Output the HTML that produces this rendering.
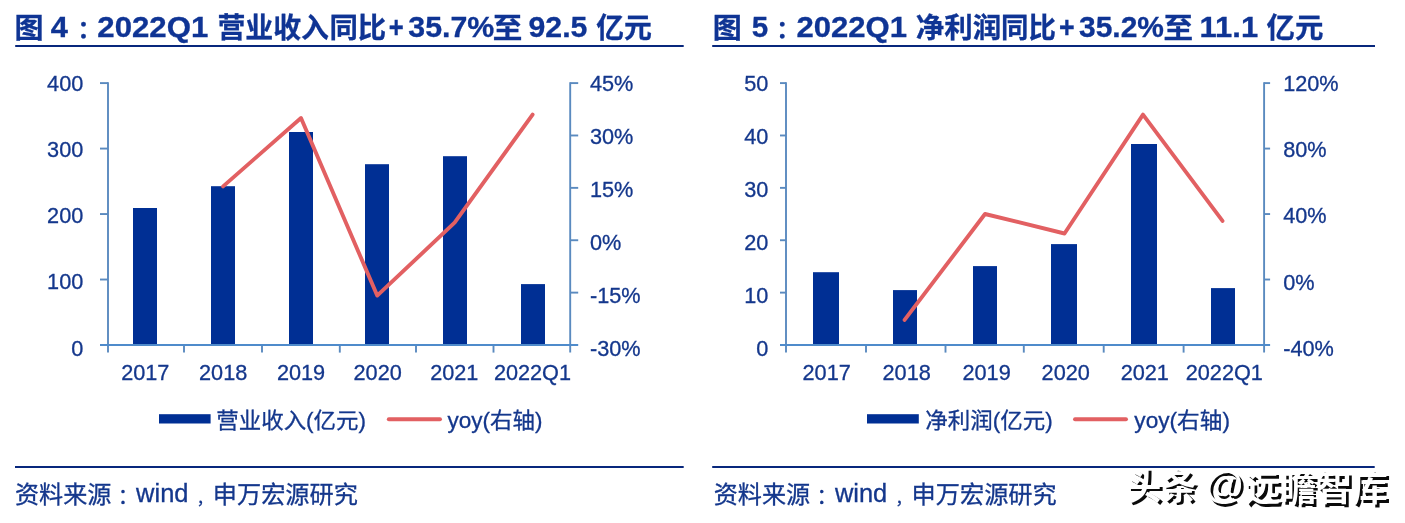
<!DOCTYPE html>
<html lang="zh-CN"><head><meta charset="utf-8"><title>图 4 / 图 5</title>
<style>html,body{margin:0;padding:0;background:#fff;}body{width:1405px;height:523px;overflow:hidden;}svg{display:block;font-family:'Liberation Sans', 'Noto Sans CJK SC', sans-serif;fill:#14378c;}text{stroke:#14378c;stroke-width:0.3px;}.wm text{stroke:none;}.tt text{fill:#0f3494;stroke:#0f3494;}</style>
</head><body>
<svg width="1405" height="523" viewBox="0 0 1405 523">
<rect width="1405" height="523" fill="#ffffff"/>
<g id="title-left" class="tt"><text font-weight="bold">
<tspan x="14.43" y="37.5" font-size="28" font-weight="bold" textLength="29.05" lengthAdjust="spacingAndGlyphs">图</tspan>
 
<tspan x="50.77" y="37" font-size="29" font-weight="bold" textLength="17.17" lengthAdjust="spacingAndGlyphs">4</tspan>
<tspan x="77.40" y="37.7" font-size="24" font-weight="bold">：</tspan>
<tspan x="97.32" y="37" font-size="29" font-weight="bold" textLength="110.96" lengthAdjust="spacingAndGlyphs">2022Q1</tspan>
 
<tspan x="217.38" y="37.5" font-size="28" font-weight="bold" textLength="111.64" lengthAdjust="spacingAndGlyphs">营业收入</tspan>
<tspan x="329.44" y="37.5" font-size="28" font-weight="bold" textLength="56.82" lengthAdjust="spacingAndGlyphs">同比</tspan>
<tspan x="388.80" y="37" font-size="29" font-weight="bold" textLength="14.95" lengthAdjust="spacingAndGlyphs">+</tspan>
<tspan x="408.35" y="37" font-size="29" font-weight="bold" textLength="85.91" lengthAdjust="spacingAndGlyphs">35.7%</tspan>
<tspan x="492.78" y="37.5" font-size="28" font-weight="bold" textLength="29.54" lengthAdjust="spacingAndGlyphs">至</tspan>
 
<tspan x="528.56" y="37" font-size="29" font-weight="bold" textLength="58.90" lengthAdjust="spacingAndGlyphs">92.5</tspan>
 
<tspan x="596.20" y="37.5" font-size="28" font-weight="bold" textLength="55.67" lengthAdjust="spacingAndGlyphs">亿元</tspan>
</text></g>
<g id="title-right" class="tt"><text font-weight="bold">
<tspan x="712.72" y="37.5" font-size="28" font-weight="bold" textLength="29.05" lengthAdjust="spacingAndGlyphs">图</tspan>
 
<tspan x="751.81" y="37" font-size="29" font-weight="bold" textLength="16.46" lengthAdjust="spacingAndGlyphs">5</tspan>
<tspan x="776.30" y="37.7" font-size="24" font-weight="bold">：</tspan>
<tspan x="796.53" y="37" font-size="29" font-weight="bold" textLength="110.55" lengthAdjust="spacingAndGlyphs">2022Q1</tspan>
 
<tspan x="915.88" y="37.5" font-size="28" font-weight="bold" textLength="85.50" lengthAdjust="spacingAndGlyphs">净利润</tspan>
<tspan x="1001.12" y="37.5" font-size="28" font-weight="bold" textLength="54.91" lengthAdjust="spacingAndGlyphs">同比</tspan>
<tspan x="1058.94" y="37" font-size="29" font-weight="bold" textLength="15.65" lengthAdjust="spacingAndGlyphs">+</tspan>
<tspan x="1079.05" y="37" font-size="29" font-weight="bold" textLength="84.90" lengthAdjust="spacingAndGlyphs">35.2%</tspan>
<tspan x="1163.48" y="37.5" font-size="28" font-weight="bold" textLength="29.54" lengthAdjust="spacingAndGlyphs">至</tspan>
 
<tspan x="1199.60" y="37" font-size="29" font-weight="bold" textLength="58.50" lengthAdjust="spacingAndGlyphs">11.1</tspan>
 
<tspan x="1266.49" y="37.5" font-size="28" font-weight="bold" textLength="56.90" lengthAdjust="spacingAndGlyphs">亿元</tspan>
</text></g>
<rect x="15.2" y="45" width="668.5" height="2" fill="#08277c"/>
<rect x="712.2" y="45" width="662.8" height="2" fill="#08277c"/>
<rect x="133" y="208" width="24" height="137.0" fill="#002f94"/>
<rect x="211" y="186.2" width="24" height="158.8" fill="#002f94"/>
<rect x="289" y="132" width="24" height="213.0" fill="#002f94"/>
<rect x="365" y="164.2" width="24" height="180.8" fill="#002f94"/>
<rect x="443" y="156.2" width="24" height="188.8" fill="#002f94"/>
<rect x="521" y="284.1" width="24" height="60.9" fill="#002f94"/>
<g stroke="#5a8abf" stroke-width="1.9" fill="none">
<path d="M108 82.2 V352.6"/>
<path d="M570.2 82.2 V352.6"/>
<path d="M100 83.10 H108"/>
<path d="M100 148.57 H108"/>
<path d="M100 214.05 H108"/>
<path d="M100 279.52 H108"/>
<path d="M570.2 83.10 H578.2"/>
<path d="M570.2 135.48 H578.2"/>
<path d="M570.2 187.86 H578.2"/>
<path d="M570.2 240.24 H578.2"/>
<path d="M570.2 292.62 H578.2"/>
<path d="M184 345.0 V352.6"/>
<path d="M262 345.0 V352.6"/>
<path d="M339.8 345.0 V352.6"/>
<path d="M416 345.0 V352.6"/>
<path d="M493.5 345.0 V352.6"/>
</g>
<path d="M100 345.0 H578.2" stroke="#4f8bcb" stroke-width="2.1" fill="none"/>
<path d="M223.1 186.4 L301 118 L377.2 295.6 L454.6 222.7 L532.6 114.6" stroke="#e26062" stroke-width="3.9" fill="none" stroke-linecap="round" stroke-linejoin="round"/>
<text x="83.3" y="90.90" font-size="21.7" text-anchor="end">400</text>
<text x="83.3" y="157.05" font-size="21.7" text-anchor="end">300</text>
<text x="83.3" y="223.20" font-size="21.7" text-anchor="end">200</text>
<text x="83.3" y="289.35" font-size="21.7" text-anchor="end">100</text>
<text x="83.3" y="355.50" font-size="21.7" text-anchor="end">0</text>
<text x="590" y="91.30" font-size="21.7">45%</text>
<text x="590" y="144.16" font-size="21.7">30%</text>
<text x="590" y="197.02" font-size="21.7">15%</text>
<text x="590" y="249.88" font-size="21.7">0%</text>
<text x="590" y="302.74" font-size="21.7">-15%</text>
<text x="590" y="355.60" font-size="21.7">-30%</text>
<text x="121.16" y="380.2" font-size="21.7">2017</text>
<text x="199.05" y="380.2" font-size="21.7">2018</text>
<text x="276.91" y="380.2" font-size="21.7">2019</text>
<text x="353.55" y="380.2" font-size="21.7">2020</text>
<text x="430.16" y="380.2" font-size="21.7">2021</text>
<text x="493.88" y="380.2" font-size="21.7">2022Q1</text>
<rect x="159" y="414.2" width="51.6" height="9.3" fill="#002f94"/>
<text x="216.30" y="427.6" font-size="22" textLength="149.64" lengthAdjust="spacingAndGlyphs">营业收入(亿元)</text>
<path d="M388.8 419.3 H440" stroke="#e26062" stroke-width="3.9" stroke-linecap="round"/>
<text x="447.47" y="427.6" font-size="22" textLength="94.95" lengthAdjust="spacingAndGlyphs">yoy(右轴)</text>
<rect x="813" y="272.2" width="26" height="72.8" fill="#002f94"/>
<rect x="893" y="290.1" width="24" height="54.9" fill="#002f94"/>
<rect x="973" y="266.1" width="24" height="78.9" fill="#002f94"/>
<rect x="1051" y="244.1" width="26" height="100.9" fill="#002f94"/>
<rect x="1131" y="144" width="26" height="201.0" fill="#002f94"/>
<rect x="1211" y="288.1" width="24" height="56.9" fill="#002f94"/>
<g stroke="#5a8abf" stroke-width="1.9" fill="none">
<path d="M786 82.2 V352.6"/>
<path d="M1264.1 82.2 V352.6"/>
<path d="M780 83.10 H786"/>
<path d="M780 135.48 H786"/>
<path d="M780 187.86 H786"/>
<path d="M780 240.24 H786"/>
<path d="M780 292.62 H786"/>
<path d="M1264.1 83.10 H1270.1"/>
<path d="M1264.1 148.57 H1270.1"/>
<path d="M1264.1 214.05 H1270.1"/>
<path d="M1264.1 279.52 H1270.1"/>
<path d="M866 345.0 V352.6"/>
<path d="M945.5 345.0 V352.6"/>
<path d="M1023.8 345.0 V352.6"/>
<path d="M1103.7 345.0 V352.6"/>
<path d="M1183.6 345.0 V352.6"/>
</g>
<path d="M780 345.0 H1270.1" stroke="#4f8bcb" stroke-width="2.1" fill="none"/>
<path d="M904.6 319.9 L985 214 L1064.5 233.5 L1143 114.6 L1222.5 220.9" stroke="#e26062" stroke-width="3.9" fill="none" stroke-linecap="round" stroke-linejoin="round"/>
<text x="768.3" y="90.90" font-size="21.7" text-anchor="end">50</text>
<text x="768.3" y="143.82" font-size="21.7" text-anchor="end">40</text>
<text x="768.3" y="196.74" font-size="21.7" text-anchor="end">30</text>
<text x="768.3" y="249.66" font-size="21.7" text-anchor="end">20</text>
<text x="768.3" y="302.58" font-size="21.7" text-anchor="end">10</text>
<text x="768.3" y="355.50" font-size="21.7" text-anchor="end">0</text>
<text x="1283.2" y="91.30" font-size="21.7">120%</text>
<text x="1283.2" y="157.38" font-size="21.7">80%</text>
<text x="1283.2" y="223.45" font-size="21.7">40%</text>
<text x="1283.2" y="289.53" font-size="21.7">0%</text>
<text x="1283.2" y="355.60" font-size="21.7">-40%</text>
<text x="802.56" y="380.2" font-size="21.7">2017</text>
<text x="882.55" y="380.2" font-size="21.7">2018</text>
<text x="962.46" y="380.2" font-size="21.7">2019</text>
<text x="1041.60" y="380.2" font-size="21.7">2020</text>
<text x="1120.66" y="380.2" font-size="21.7">2021</text>
<text x="1185.72" y="380.2" font-size="21.7">2022Q1</text>
<rect x="867" y="414.2" width="51.8" height="9.3" fill="#002f94"/>
<text x="925.35" y="427.6" font-size="22" textLength="127.38" lengthAdjust="spacingAndGlyphs">净利润(亿元)</text>
<path d="M1075 419.3 H1126" stroke="#e26062" stroke-width="3.9" stroke-linecap="round"/>
<text x="1134.37" y="427.6" font-size="22" textLength="95.56" lengthAdjust="spacingAndGlyphs">yoy(右轴)</text>
<rect x="15" y="466" width="668.7" height="2" fill="#08277c"/>
<rect x="712.2" y="466" width="662.5" height="2" fill="#08277c"/>
<g id="source-left"><text>
<tspan x="14.94" y="502.5" font-size="24" textLength="96.43" lengthAdjust="spacingAndGlyphs">资料来源</tspan>
<tspan x="117.75" y="502.6" font-size="21">：</tspan>
<tspan x="136.10" y="502" font-size="25" textLength="52.40" lengthAdjust="spacingAndGlyphs">wind</tspan>
<tspan x="196.81" y="503.5" font-size="16">，</tspan>
<tspan x="212.83" y="502.5" font-size="24" textLength="145.05" lengthAdjust="spacingAndGlyphs">申万宏源研究</tspan>
</text></g>
<g id="source-right"><text>
<tspan x="713.74" y="502.5" font-size="24" textLength="96.43" lengthAdjust="spacingAndGlyphs">资料来源</tspan>
<tspan x="816.55" y="502.6" font-size="21">：</tspan>
<tspan x="834.90" y="502" font-size="25" textLength="52.40" lengthAdjust="spacingAndGlyphs">wind</tspan>
<tspan x="895.61" y="503.5" font-size="16">，</tspan>
<tspan x="911.63" y="502.5" font-size="24" textLength="145.05" lengthAdjust="spacingAndGlyphs">申万宏源研究</tspan>
</text></g>
<g class="wm">
<text fill="#0a0a0a">
<tspan x="1129.16" y="502.3" font-size="36" font-weight="bold" textLength="70.14" lengthAdjust="spacingAndGlyphs">头条</tspan>
 
<tspan x="1207.79" y="501.2" font-size="40" font-weight="bold" textLength="38.24" lengthAdjust="spacingAndGlyphs">@</tspan>
<tspan x="1247.51" y="503.6" font-size="36" font-weight="bold" textLength="142.98" lengthAdjust="spacingAndGlyphs">远瞻智库</tspan>
</text><text fill="#ffffff" aria-hidden="true">
<tspan x="1126.36" y="499.5" font-size="36" font-weight="bold" textLength="70.14" lengthAdjust="spacingAndGlyphs">头条</tspan>
 
<tspan x="1204.99" y="498.4" font-size="40" font-weight="bold" textLength="38.24" lengthAdjust="spacingAndGlyphs">@</tspan>
<tspan x="1244.71" y="500.8" font-size="36" font-weight="bold" textLength="142.98" lengthAdjust="spacingAndGlyphs">远瞻智库</tspan>
</text>
</g>
</svg></body></html>
